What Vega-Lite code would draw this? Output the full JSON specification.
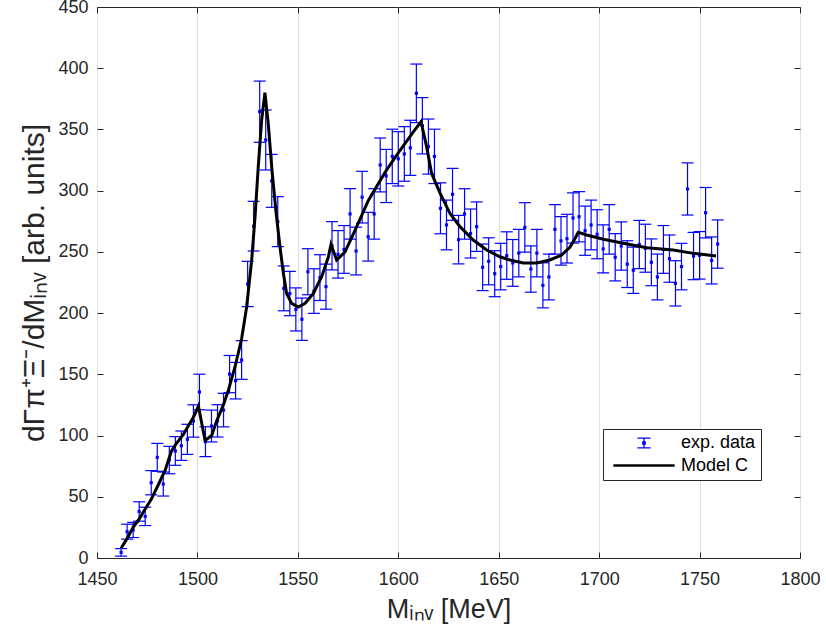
{
  "$schema": "https://vega.github.io/schema/vega-lite/v6.json",
  "width": 703,
  "height": 551,
  "autosize": "none",
  "padding": {"left": 97, "top": 7, "right": 26, "bottom": 79},
  "background": "white",
  "config": {
    "view": {"stroke": "#262626", "strokeWidth": 1},
    "font": "Liberation Sans"
  },
  "datasets": {
    "exp": [
      {"m": 1462, "v": 4.6, "e": 3.1, "series": "exp. data"},
      {"m": 1465, "v": 21.5, "e": 6.1, "series": "exp. data"},
      {"m": 1468, "v": 22.9, "e": 6.2, "series": "exp. data"},
      {"m": 1471, "v": 38, "e": 7.9, "series": "exp. data"},
      {"m": 1474, "v": 34, "e": 7.5, "series": "exp. data"},
      {"m": 1477, "v": 61.5, "e": 9.9, "series": "exp. data"},
      {"m": 1480, "v": 82.2, "e": 11.4, "series": "exp. data"},
      {"m": 1483, "v": 60.4, "e": 9.8, "series": "exp. data"},
      {"m": 1486, "v": 80, "e": 11.2, "series": "exp. data"},
      {"m": 1489, "v": 87.4, "e": 11.7, "series": "exp. data"},
      {"m": 1492, "v": 91.7, "e": 12, "series": "exp. data"},
      {"m": 1495, "v": 96.9, "e": 12.3, "series": "exp. data"},
      {"m": 1498, "v": 111.9, "e": 13.2, "series": "exp. data"},
      {"m": 1501, "v": 135.6, "e": 14.5, "series": "exp. data"},
      {"m": 1504, "v": 95, "e": 12.2, "series": "exp. data"},
      {"m": 1507, "v": 107.8, "e": 13, "series": "exp. data"},
      {"m": 1510, "v": 112, "e": 13.2, "series": "exp. data"},
      {"m": 1513, "v": 120.8, "e": 13.7, "series": "exp. data"},
      {"m": 1516, "v": 150.2, "e": 15.2, "series": "exp. data"},
      {"m": 1519, "v": 144.8, "e": 14.9, "series": "exp. data"},
      {"m": 1522, "v": 161.7, "e": 15.8, "series": "exp. data"},
      {"m": 1525, "v": 223.8, "e": 18.5, "series": "exp. data"},
      {"m": 1528, "v": 271, "e": 20.3, "series": "exp. data"},
      {"m": 1531, "v": 364.5, "e": 25, "series": "exp. data"},
      {"m": 1534, "v": 341.4, "e": 24.5, "series": "exp. data"},
      {"m": 1537, "v": 308, "e": 21.6, "series": "exp. data"},
      {"m": 1540, "v": 274.7, "e": 20.4, "series": "exp. data"},
      {"m": 1543, "v": 220.2, "e": 18.3, "series": "exp. data"},
      {"m": 1546, "v": 216, "e": 18.1, "series": "exp. data"},
      {"m": 1549, "v": 203, "e": 17.6, "series": "exp. data"},
      {"m": 1552, "v": 195, "e": 17.3, "series": "exp. data"},
      {"m": 1555, "v": 233.8, "e": 18.8, "series": "exp. data"},
      {"m": 1558, "v": 218, "e": 18.2, "series": "exp. data"},
      {"m": 1561, "v": 229, "e": 18.7, "series": "exp. data"},
      {"m": 1564, "v": 221.6, "e": 18.4, "series": "exp. data"},
      {"m": 1567, "v": 255, "e": 19.7, "series": "exp. data"},
      {"m": 1570, "v": 248, "e": 19.4, "series": "exp. data"},
      {"m": 1573, "v": 252, "e": 19.5, "series": "exp. data"},
      {"m": 1576, "v": 281, "e": 20.6, "series": "exp. data"},
      {"m": 1579, "v": 250.7, "e": 19.5, "series": "exp. data"},
      {"m": 1582, "v": 294.7, "e": 21.1, "series": "exp. data"},
      {"m": 1585, "v": 262.4, "e": 19.9, "series": "exp. data"},
      {"m": 1588, "v": 281, "e": 20.6, "series": "exp. data"},
      {"m": 1591, "v": 321, "e": 22, "series": "exp. data"},
      {"m": 1594, "v": 312, "e": 21.7, "series": "exp. data"},
      {"m": 1597, "v": 328, "e": 22.2, "series": "exp. data"},
      {"m": 1600, "v": 326, "e": 22.2, "series": "exp. data"},
      {"m": 1603, "v": 330, "e": 22.3, "series": "exp. data"},
      {"m": 1606, "v": 335, "e": 22.5, "series": "exp. data"},
      {"m": 1609, "v": 379.5, "e": 23.9, "series": "exp. data"},
      {"m": 1612, "v": 353, "e": 23, "series": "exp. data"},
      {"m": 1615, "v": 336, "e": 22.5, "series": "exp. data"},
      {"m": 1618, "v": 328, "e": 22.2, "series": "exp. data"},
      {"m": 1621, "v": 285.6, "e": 20.8, "series": "exp. data"},
      {"m": 1624, "v": 272, "e": 20.3, "series": "exp. data"},
      {"m": 1627, "v": 297, "e": 21.2, "series": "exp. data"},
      {"m": 1630, "v": 260, "e": 19.8, "series": "exp. data"},
      {"m": 1633, "v": 281, "e": 20.6, "series": "exp. data"},
      {"m": 1636, "v": 265, "e": 20, "series": "exp. data"},
      {"m": 1639, "v": 270.6, "e": 20.2, "series": "exp. data"},
      {"m": 1642, "v": 237.4, "e": 19, "series": "exp. data"},
      {"m": 1645, "v": 242.3, "e": 19.2, "series": "exp. data"},
      {"m": 1648, "v": 232.2, "e": 18.8, "series": "exp. data"},
      {"m": 1651, "v": 238, "e": 19, "series": "exp. data"},
      {"m": 1654, "v": 247, "e": 19.4, "series": "exp. data"},
      {"m": 1657, "v": 241, "e": 19.1, "series": "exp. data"},
      {"m": 1660, "v": 249, "e": 19.4, "series": "exp. data"},
      {"m": 1663, "v": 270, "e": 20.2, "series": "exp. data"},
      {"m": 1666, "v": 236, "e": 18.9, "series": "exp. data"},
      {"m": 1669, "v": 249, "e": 19.4, "series": "exp. data"},
      {"m": 1672, "v": 222.7, "e": 18.4, "series": "exp. data"},
      {"m": 1675, "v": 229.5, "e": 18.7, "series": "exp. data"},
      {"m": 1678, "v": 268.4, "e": 20.2, "series": "exp. data"},
      {"m": 1681, "v": 259, "e": 19.8, "series": "exp. data"},
      {"m": 1684, "v": 260.8, "e": 19.9, "series": "exp. data"},
      {"m": 1687, "v": 277.7, "e": 20.5, "series": "exp. data"},
      {"m": 1690, "v": 278.7, "e": 20.5, "series": "exp. data"},
      {"m": 1693, "v": 267.3, "e": 20.1, "series": "exp. data"},
      {"m": 1696, "v": 272, "e": 20.3, "series": "exp. data"},
      {"m": 1699, "v": 264.4, "e": 20, "series": "exp. data"},
      {"m": 1702, "v": 252.4, "e": 19.6, "series": "exp. data"},
      {"m": 1705, "v": 268.4, "e": 20.2, "series": "exp. data"},
      {"m": 1708, "v": 245.6, "e": 19.3, "series": "exp. data"},
      {"m": 1711, "v": 254.8, "e": 19.7, "series": "exp. data"},
      {"m": 1714, "v": 240, "e": 19.1, "series": "exp. data"},
      {"m": 1717, "v": 235, "e": 18.9, "series": "exp. data"},
      {"m": 1720, "v": 256, "e": 19.7, "series": "exp. data"},
      {"m": 1723, "v": 253, "e": 19.6, "series": "exp. data"},
      {"m": 1726, "v": 241.5, "e": 19.1, "series": "exp. data"},
      {"m": 1729, "v": 229.5, "e": 18.7, "series": "exp. data"},
      {"m": 1732, "v": 252, "e": 19.5, "series": "exp. data"},
      {"m": 1735, "v": 244.5, "e": 19.3, "series": "exp. data"},
      {"m": 1738, "v": 224.3, "e": 18.5, "series": "exp. data"},
      {"m": 1741, "v": 238, "e": 19, "series": "exp. data"},
      {"m": 1744, "v": 301.4, "e": 21.3, "series": "exp. data"},
      {"m": 1747, "v": 246.6, "e": 19.3, "series": "exp. data"},
      {"m": 1750, "v": 247.2, "e": 19.4, "series": "exp. data"},
      {"m": 1753, "v": 282, "e": 20.6, "series": "exp. data"},
      {"m": 1756, "v": 243, "e": 19.2, "series": "exp. data"},
      {"m": 1759, "v": 256.4, "e": 19.7, "series": "exp. data"}
    ],
    "model": [
      {"m": 1462, "v": 8},
      {"m": 1465, "v": 16},
      {"m": 1468, "v": 25},
      {"m": 1471, "v": 32},
      {"m": 1474, "v": 40},
      {"m": 1477, "v": 48},
      {"m": 1480, "v": 58},
      {"m": 1484, "v": 72},
      {"m": 1487, "v": 87},
      {"m": 1489.3, "v": 93},
      {"m": 1493, "v": 101},
      {"m": 1498, "v": 115},
      {"m": 1500.5, "v": 124},
      {"m": 1503.8, "v": 96},
      {"m": 1507.1, "v": 100},
      {"m": 1509.6, "v": 112},
      {"m": 1512.9, "v": 125},
      {"m": 1515.4, "v": 137},
      {"m": 1518.7, "v": 156},
      {"m": 1522, "v": 179},
      {"m": 1524.5, "v": 205},
      {"m": 1527, "v": 243},
      {"m": 1528.7, "v": 279},
      {"m": 1530.3, "v": 320},
      {"m": 1532, "v": 358},
      {"m": 1533.6, "v": 380},
      {"m": 1535.3, "v": 354},
      {"m": 1537.1, "v": 317},
      {"m": 1539.1, "v": 283},
      {"m": 1541.1, "v": 254},
      {"m": 1542.8, "v": 232.5},
      {"m": 1544.4, "v": 216},
      {"m": 1546.9, "v": 208},
      {"m": 1550.2, "v": 205},
      {"m": 1553.6, "v": 208},
      {"m": 1557.7, "v": 216},
      {"m": 1561.9, "v": 230},
      {"m": 1565.2, "v": 246},
      {"m": 1566.5, "v": 256},
      {"m": 1569.3, "v": 243.4},
      {"m": 1573.5, "v": 250},
      {"m": 1579.3, "v": 270.6},
      {"m": 1585.1, "v": 292},
      {"m": 1590.6, "v": 307.3},
      {"m": 1594.2, "v": 317},
      {"m": 1600.9, "v": 333},
      {"m": 1607.5, "v": 348},
      {"m": 1611.3, "v": 356.3},
      {"m": 1614.1, "v": 336},
      {"m": 1616.6, "v": 314},
      {"m": 1620.8, "v": 298},
      {"m": 1625.7, "v": 281.5},
      {"m": 1630.7, "v": 270.6},
      {"m": 1637.3, "v": 259.7},
      {"m": 1644, "v": 251.5},
      {"m": 1650.6, "v": 246},
      {"m": 1655.6, "v": 243.4},
      {"m": 1662.2, "v": 241},
      {"m": 1668.9, "v": 241},
      {"m": 1675.5, "v": 243.4},
      {"m": 1681.4, "v": 247.5},
      {"m": 1685.5, "v": 254},
      {"m": 1688, "v": 261},
      {"m": 1689.6, "v": 266},
      {"m": 1693.8, "v": 263.8},
      {"m": 1702.1, "v": 260.3},
      {"m": 1712, "v": 257},
      {"m": 1723.7, "v": 253.4},
      {"m": 1736.9, "v": 251.5},
      {"m": 1746.9, "v": 248.8},
      {"m": 1758.2, "v": 246.6}
    ]
  },
  "layer": [
    {
      "data": {"name": "exp"},
      "mark": {"type": "errorbar", "color": "#0000ff", "thickness": 1.2, "ticks": {"size": 12, "opacity": 1}},
      "encoding": {
        "x": {
          "field": "m", "type": "quantitative",
          "scale": {"domain": [1450, 1800], "nice": false, "zero": false},
          "axis": {
            "orient": "bottom",
            "values": [1450, 1500, 1550, 1600, 1650, 1700, 1750, 1800],
            "format": "d",
            "grid": true, "gridColor": "#e0e0e0", "gridWidth": 1,
            "domain": false,
            "tickSize": -6, "tickColor": "#262626", "tickWidth": 1,
            "labelPadding": 18, "labelFont": "Liberation Sans", "labelFontSize": 18, "labelColor": "#262626",
            "labelFlush": false, "labelOverlap": false,
            "title": "Mᵢₙᵥ [MeV]", "titleFont": "Liberation Sans", "titleFontSize": 27,
            "titleFontWeight": "normal", "titleColor": "#262626", "titlePadding": 8
          }
        },
        "y": {
          "field": "v", "type": "quantitative",
          "scale": {"domain": [0, 450], "nice": false},
          "axis": {
            "orient": "left",
            "values": [0, 50, 100, 150, 200, 250, 300, 350, 400, 450],
            "grid": false, "domain": false,
            "tickSize": -6, "tickColor": "#262626", "tickWidth": 1,
            "labelPadding": 15, "labelFont": "Liberation Sans", "labelFontSize": 18, "labelColor": "#262626",
            "labelFlush": false, "labelOverlap": false,
            "title": "dΓπ⁺Ξ⁻/dMᵢₙᵥ [arb. units]", "titleFont": "Liberation Sans", "titleFontSize": 30,
            "titleFontWeight": "normal", "titleColor": "#262626", "titlePadding": 8
          }
        },
        "yError": {"field": "e"}
      }
    },
    {
      "data": {"name": "exp"},
      "mark": {"type": "point", "shape": "square", "filled": true, "size": 10, "opacity": 1, "color": "#0000ff"},
      "encoding": {
        "x": {
          "field": "m", "type": "quantitative",
          "axis": {"orient": "top", "values": [1450, 1500, 1550, 1600, 1650, 1700, 1750, 1800],
                   "labels": false, "grid": false, "domain": false, "tickSize": -6, "tickColor": "#262626", "title": null}
        },
        "y": {
          "field": "v", "type": "quantitative",
          "axis": {"orient": "right", "values": [0, 50, 100, 150, 200, 250, 300, 350, 400, 450],
                   "labels": false, "grid": false, "domain": false, "tickSize": -6, "tickColor": "#262626", "title": null}
        }
      }
    },
    {
      "data": {"name": "model"},
      "mark": {"type": "line", "color": "#000000", "strokeWidth": 3},
      "encoding": {
        "x": {"field": "m", "type": "quantitative", "axis": null},
        "y": {"field": "v", "type": "quantitative", "axis": null}
      }
    },
    {
      "data": {"name": "exp"},
      "mark": {"type": "point", "filled": false, "opacity": 0, "size": 10},
      "encoding": {
        "x": {"field": "m", "type": "quantitative", "axis": null},
        "y": {"field": "v", "type": "quantitative", "axis": null},
        "color": {
          "field": "series", "type": "nominal",
          "scale": {"domain": ["exp. data", "Model C"], "range": ["#0000ff", "#000000"]},
          "legend": {
            "title": null, "orient": "none", "legendX": 506, "legendY": 422,
            "direction": "vertical", "columns": 1,
            "padding": 5, "strokeColor": "#262626", "fillColor": "white", "cornerRadius": 0,
            "labelFont": "Liberation Sans", "labelFontSize": 18, "labelColor": "#000000", "labelAlign": "left",
            "symbolSize": 144, "symbolOffset": 27, "labelOffset": 28, "rowPadding": 4.5,
            "symbolOpacity": 1, "symbolStrokeWidth": 1.3
          }
        },
        "shape": {
          "field": "series", "type": "nominal",
          "scale": {"domain": ["exp. data", "Model C"], "range": ["M-1.1,-0.8H1.1M0,-0.8V0.8M-1.1,0.8H1.1M-0.2,-0.2H0.2V0.2H-0.2Z", "M-5,-0.1H5V0.1H-5Z"]},
          "legend": {
            "title": null, "orient": "none", "legendX": 506, "legendY": 422,
            "direction": "vertical", "columns": 1,
            "padding": 5, "strokeColor": "#262626", "fillColor": "white", "cornerRadius": 0,
            "labelFont": "Liberation Sans", "labelFontSize": 18, "labelColor": "#000000", "labelAlign": "left",
            "symbolSize": 144, "symbolOffset": 27, "labelOffset": 28, "rowPadding": 4.5,
            "symbolOpacity": 1, "symbolStrokeWidth": 1.3
          }
        }
      }
    }
  ],
  "resolve": {"axis": {"x": "independent", "y": "independent"}}
}
